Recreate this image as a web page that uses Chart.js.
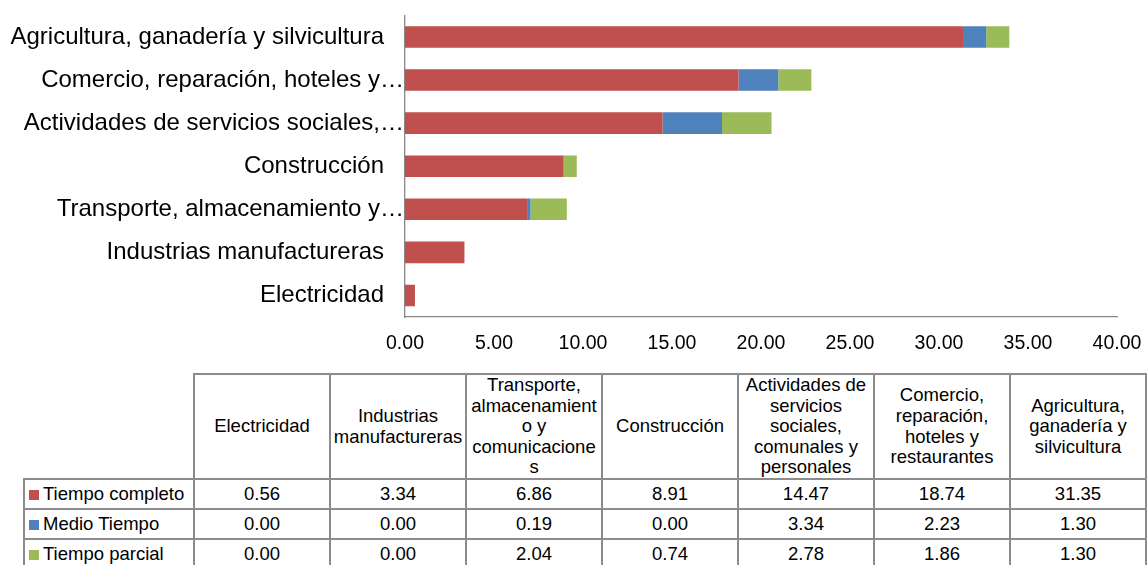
<!DOCTYPE html>
<html>
<head>
<meta charset="utf-8">
<script src="https://cdn.jsdelivr.net/npm/chart.js@4"></script>
<style>
  html, body { margin: 0; background: #fff; overflow: hidden; font-family: "Liberation Sans", Arial, sans-serif; }
  #wrap { position: absolute; left: 0; top: 0; width: 1147px; height: 370px; }
  #tbl { position: absolute; left: 23px; top: 373px; border-collapse: collapse; font-size: 18.5px; color: #000; }
  #tbl td { border: 2px solid #8c8c8c; padding: 0; text-align: center; }
  #tbl td.blank { border-top-style: hidden; border-left-style: hidden; }
  #tbl tr.head td { height: 103px; line-height: 20.6px; white-space: pre-line; }
  #tbl tr.row td { height: 28px; }
  #tbl td.lab { text-align: left; padding-left: 4px; white-space: nowrap; }
  .sq { display: inline-block; width: 10px; height: 10px; margin-right: 4px; }
</style>
</head>
<body>
<div id="wrap"><canvas id="chart"></canvas></div>
<table id="tbl"></table>
<script>
// categories, bottom to top (same order as the table)
var categories = ["Electricidad", "Industrias manufactureras", "Transporte, almacenamiento y comunicaciones",
  "Construcción", "Actividades de servicios sociales, comunales y personales",
  "Comercio, reparación, hoteles y restaurantes", "Agricultura, ganadería y silvicultura"];
// what the axis shows (long names are cut)
var axisLabels = ["Electricidad   ", "Industrias manufactureras   ", "Transporte, almacenamiento y…",
  "Construcción   ", "Actividades de servicios sociales,…", "Comercio, reparación, hoteles y…",
  "Agricultura, ganadería y silvicultura   "];
// table header text, wrapped like the original
var tableHeaders = ["Electricidad", "Industrias\nmanufactureras", "Transporte,\nalmacenamient\no y\ncomunicacione\ns",
  "Construcción", "Actividades de\nservicios\nsociales,\ncomunales y\npersonales",
  "Comercio,\nreparación,\nhoteles y\nrestaurantes", "Agricultura,\nganadería y\nsilvicultura"];

var seriesNames = ["Tiempo completo", "Medio Tiempo", "Tiempo parcial"];
var completo = [0.56, 3.34, 6.86, 8.91, 14.47, 18.74, 31.35];
var medio = [0.00, 0.00, 0.19, 0.00, 3.34, 2.23, 1.30];
var parcial = [0.00, 0.00, 2.04, 0.74, 2.78, 1.86, 1.30];
var colors = ["#C0504D", "#4F81BD", "#9BBB59"];
var xTicks = [0, 5, 10, 15, 20, 25, 30, 35, 40];

var series = [completo, medio, parcial];

var data = {
  labels: axisLabels,
  datasets: series.map(function (vals, i) {
    return {
      label: seriesNames[i],
      data: vals,
      backgroundColor: colors[i],
      borderWidth: 0,
      barPercentage: 0.5,
      categoryPercentage: 1.0
    };
  })
};

var options = {
  indexAxis: 'y',
  responsive: true,
  maintainAspectRatio: false,
  animation: false,
  layout: { padding: { top: 12, right: 30, left: 0, bottom: 0 } },
  plugins: { legend: { display: false }, tooltip: { enabled: false } },
  scales: {
    x: {
      stacked: true,
      min: 0,
      max: 40,
      afterBuildTicks: function (s) { s.ticks = xTicks.map(function (v) { return { value: v }; }); },
      afterFit: function (s) { s.height = 53; s.paddingLeft = 0; s.paddingRight = 0; },
      grid: { display: false, drawTicks: false },
      border: { display: true, color: "#888", width: 1.3 },
      ticks: {
        padding: 15,
        color: "#000",
        font: { family: "Liberation Sans", size: 19.5 },
        maxRotation: 0,
        callback: function (v) { return Number(v).toFixed(2); }
      }
    },
    y: {
      stacked: true,
      reverse: true,
      afterFit: function (s) { s.width = 405; },
      grid: { display: false, drawTicks: false },
      border: { display: true, color: "#888", width: 1.3 },
      ticks: {
        padding: 1,
        color: "#000",
        font: { family: "Liberation Sans", size: 24 },
        autoSkip: false
      }
    }
  }
};

new Chart('chart', { type: 'bar', data: data, options: options });

// data table under the chart
var tbl = document.getElementById('tbl');
var html = '<colgroup><col style="width:170px">';
categories.forEach(function () { html += '<col style="width:136px">'; });
html += '</colgroup><tr class="head"><td class="blank"></td>';
tableHeaders.forEach(function (h) { html += '<td>' + h + '</td>'; });
html += '</tr>';
series.forEach(function (vals, i) {
  html += '<tr class="row"><td class="lab"><span class="sq" style="background:' + colors[i] + '"></span>' + seriesNames[i] + '</td>';
  vals.forEach(function (v) { html += '<td>' + v.toFixed(2) + '</td>'; });
  html += '</tr>';
});
tbl.innerHTML = html;
</script>
</body>
</html>
